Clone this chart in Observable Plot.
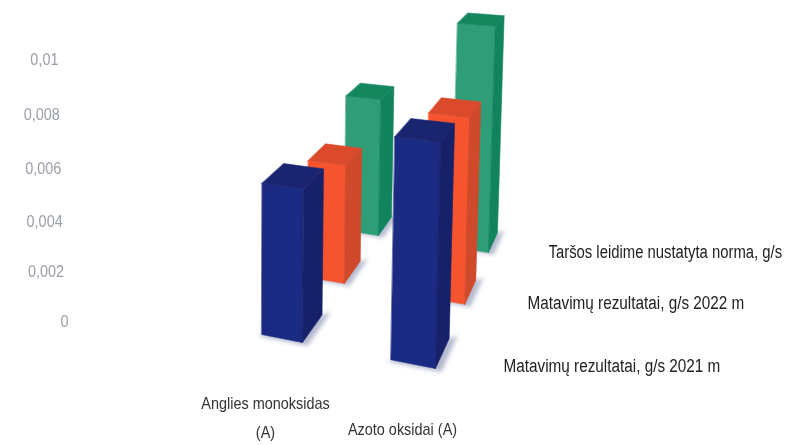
<!DOCTYPE html>
<html><head><meta charset="utf-8">
<script src="https://cdn.jsdelivr.net/npm/d3@7"></script>
<script src="https://cdn.jsdelivr.net/npm/@observablehq/plot@0.6"></script>
<style>html,body{margin:0;padding:0;background:#fff}svg{display:block}</style>
</head><body><div id="c"></div>
<script>
const categories = ["Anglies monoksidas\n(A)", "Azoto oksidai (A)"];
const series = ["Matavimų rezultatai, g/s 2021 m", "Matavimų rezultatai, g/s 2022 m", "Taršos leidime nustatyta norma, g/s"];
const values2021 = [0.0056, 0.0079];
const values2022 = [0.0048, 0.0073];
const valuesNorm = [0.0061, 0.0098];
const tickValues = [0, 0.002, 0.004, 0.006, 0.008, 0.01];
const tickLabels = ["0", "0,002", "0,004", "0,006", "0,008", "0,01"];
const frontColors = ["#1b2a82", "#f6542f", "#2f9e78"];
const sideColors  = ["#16216a", "#cf4a2b", "#11845e"];
const topColors   = ["#19256f", "#dc4a2c", "#14875f"];
const allValues = [values2021, values2022, valuesNorm];

const y0 = 321, y1 = 59;
const toY = d3.scaleLinear().domain([y0, y1]).range([0, 0.01]);
const tickPixels = [321, 271, 221, 168, 114, 59];

// ground-plane perspective camera: u = category, t = series depth (0..1)
const cam = {a:113.9,b:163,c:302,d:9.9,e:-52.9,f:342,g:-0.0438,h:0.2302,K:27400,lean:0.00012,vx:240};
const barW = 0.325, barD = 0.22;
function project(u, t, v) {
  const w = cam.g*u + cam.h*t + 1;
  const bx = (cam.a*u + cam.b*t + cam.c)/w;
  const by = (cam.d*u + cam.e*t + cam.f)/w;
  const H = v*cam.K/w;
  return {px: bx + (bx-cam.vx)*cam.lean*H, py: toY(by - H)};
}
const faces = [], shadows = [];
function addFace(list, id, color, pts) { pts.forEach(p => list.push({...p, id, color})); }
[2,1,0].forEach(s => categories.forEach((_, c) => {
  const v = allValues[s][c], t = s/2, R = c, L = c-barW, B = t+barD;
  const id = `${s}-${c}`;
  addFace(shadows, `sh${id}`, "#b4bace", [project(L-.02,t-.015,0), project(R+.05,t-.015,0), project(R+.05,B+.03,0), project(R,B,0)]);
  addFace(faces, `${id}f`, frontColors[s], [project(L,t,0),project(R,t,0),project(R,t,v),project(L,t,v)]);
  addFace(faces, `${id}s`, sideColors[s],  [project(R,t,0),project(R,B,0),project(R,B,v),project(R,t,v)]);
  addFace(faces, `${id}t`, topColors[s],   [project(L,t,v),project(R,t,v),project(R,B,v),project(L,B,v)]);
}));

const font = "'Liberation Sans',sans-serif";
const ticks = tickValues.map((v,i) => ({py: toY(tickPixels[i]), label: tickLabels[i], px: v===0 ? 68 : 65-700*v}));
const catLabels = [{label:categories[0], px:265, py:toY(413.5)}, {label:categories[1], px:402, py:toY(425)}];
const serLabels = [{label:series[0], px:503, py:toY(366)}, {label:series[1], px:527, py:toY(303)}, {label:series[2], px:548, py:toY(252)}];

const plot = Plot.plot({
  width:791, height:445, margin:0,
  x:{domain:[0,791], range:[0,791], axis:null},
  y:{domain:[0,0.01], range:[y0,y1], axis:null},
  color:{type:"identity"},
  marks:[
    Plot.line(shadows,{x:"px",y:"py",z:"id",fill:"color",curve:"linear-closed",imageFilter:"blur(2px)"}),
    Plot.line(faces,{x:"px",y:"py",z:"id",fill:"color",stroke:"color",strokeWidth:0.6,curve:"linear-closed",imageFilter:"blur(0.6px)"}),
    Plot.text(ticks,{x:"px",y:"py",text:"label",textAnchor:"end",fill:"#9a9ea8",fontSize:17,fontFamily:font,imageFilter:"blur(0.3px)"}),
    Plot.text(catLabels,{x:"px",y:"py",text:"label",textAnchor:"middle",fill:"#333",fontSize:17,fontFamily:font,lineHeight:1.7,imageFilter:"blur(0.3px)"}),
    Plot.text(serLabels,{x:"px",y:"py",text:"label",textAnchor:"start",fill:"#222",fontSize:18,fontFamily:font,imageFilter:"blur(0.3px)"})
  ]
});
document.getElementById("c").appendChild(plot);
// narrow the text: no condensed face is installed
plot.querySelectorAll("text").forEach(t => {
  const spans = t.querySelectorAll("tspan");
  (spans.length ? [...spans] : [t]).forEach(el => {
    const ratio = el.textContent.startsWith("Taršos") ? 0.825 : 0.85;
    el.setAttribute("textLength", el.getComputedTextLength()*ratio);
    el.setAttribute("lengthAdjust", "spacingAndGlyphs");
  });
});
</script></body></html>
